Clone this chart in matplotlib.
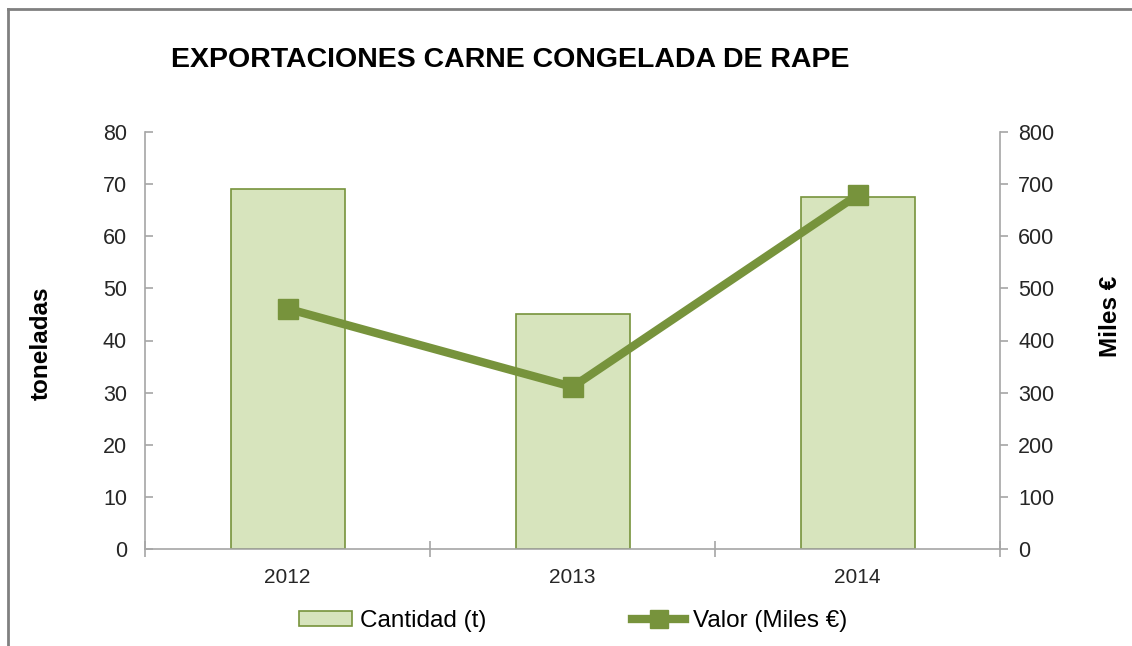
import matplotlib
matplotlib.use("Agg")
import matplotlib.pyplot as plt
from matplotlib.lines import Line2D
import numpy as np

plt.rcParams['font.family'] = ['Liberation Sans', 'DejaVu Sans']

years = ["2012", "2013", "2014"]
cantidad = [69, 45, 67.5]
valor = [461, 311, 679]
left_ticks = [0, 10, 20, 30, 40, 50, 60, 70, 80]
right_ticks = [0, 100, 200, 300, 400, 500, 600, 700, 800]

bar_fill = "#D7E4BD"
green = "#77933C"
axis_grey = "#A6A6A6"

fig = plt.figure(figsize=(11.32, 6.46), dpi=100)
W, H = 1132, 646
ax = fig.add_axes([145 / W, 1 - 549 / H, (1000 - 145) / W, (549 - 132) / H])
ax2 = ax.twinx()

x = np.arange(len(years))
ax.bar(x, cantidad, width=0.4, color=bar_fill, edgecolor=green, linewidth=1.2,
       label="Cantidad (t)", zorder=2)
ax2.plot(x, valor, color=green, linewidth=6, marker="s", markersize=15,
         label="Valor (Miles €)", zorder=3)

ax.set_xlim(-0.5, len(years) - 0.5)
ax.set_ylim(0, 80)
ax2.set_ylim(0, 800)
ax.set_yticks(left_ticks)
ax2.set_yticks(right_ticks)
ax.set_xticks(x)
ax.set_xticklabels(years)
ax.set_xticks(np.arange(-0.5, len(years)), minor=True)
ax.tick_params(axis='x', which='major', length=0, pad=14, labelsize=15, colors="#262626")
ax.tick_params(axis='x', which='minor', length=12, direction='inout', color=axis_grey, width=1.2)
ax.tick_params(axis='y', length=6, direction='in', color=axis_grey, width=1.2, labelsize=15.5,
               pad=13, labelcolor="#262626")
ax2.tick_params(axis='y', length=6, direction='out', color=axis_grey, width=1.2, labelsize=15.5,
                pad=7, labelcolor="#262626")

for a in (ax, ax2):
    for s in a.spines.values():
        s.set_visible(False)
ax.spines['left'].set_visible(True)
ax.spines['bottom'].set_visible(True)
ax2.spines['right'].set_visible(True)
for s in (ax.spines['left'], ax.spines['bottom'], ax2.spines['right']):
    s.set_color(axis_grey)
    s.set_linewidth(1.2)

ax.set_ylabel("toneladas", fontsize=17.5, fontweight='bold')
ax.yaxis.set_label_coords((41 - 145) / (1000 - 145), (549 - 343) / (549 - 132))
ax.yaxis.label.set_va('center')
ax2.set_ylabel("Miles €", fontsize=17.5, fontweight='bold', rotation=90)
ax2.yaxis.set_label_coords((1110 - 145) / (1000 - 145), (549 - 316) / (549 - 132))
ax2.yaxis.label.set_va('center')

fig.text(510 / W, 1 - 60 / H, "EXPORTACIONES CARNE CONGELADA DE RAPE",
         ha='center', va='center', fontsize=20.5, fontweight='bold')

h1, l1 = ax.get_legend_handles_labels()
h2, l2 = ax2.get_legend_handles_labels()
fig.legend(h1 + h2, l1 + l2, loc='center', bbox_to_anchor=(573 / W, 1 - 621 / H),
           ncol=2, frameon=False, fontsize=17.5, handlelength=2.2, handleheight=0.55,
           handletextpad=0.3, columnspacing=6.0, borderpad=0, borderaxespad=0,
           markerscale=0.85)

fig.add_artist(Line2D([7.5 / W, 7.5 / W], [0, 1 - 8.5 / H], transform=fig.transFigure,
                      color="#808080", linewidth=2))
fig.add_artist(Line2D([7.5 / W, 1], [1 - 8.5 / H, 1 - 8.5 / H], transform=fig.transFigure,
                      color="#808080", linewidth=2))

fig.savefig("out.png", dpi=100)
